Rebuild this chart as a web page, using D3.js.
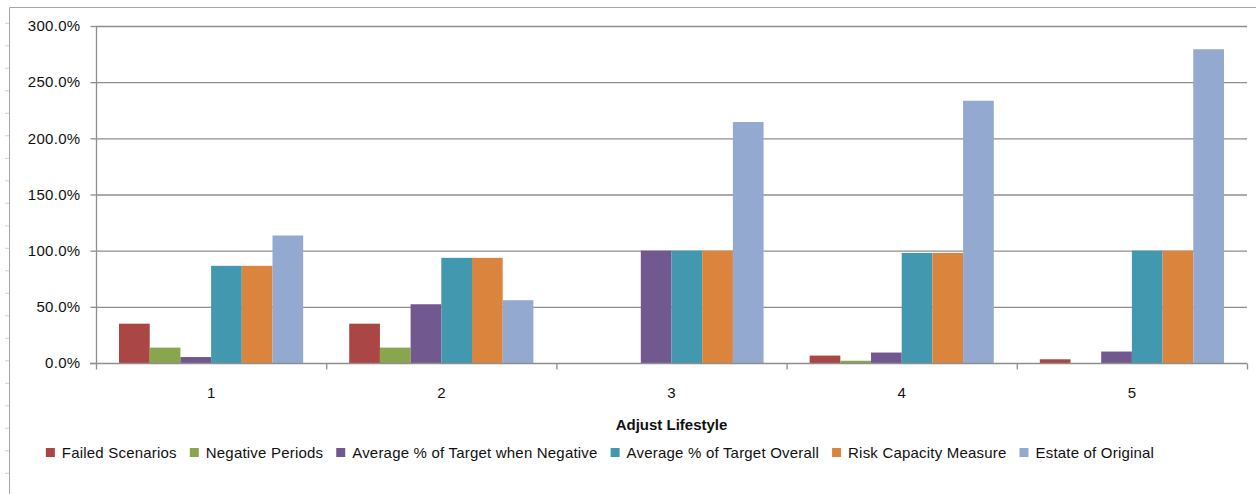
<!DOCTYPE html>
<html>
<head>
<meta charset="utf-8">
<script src="https://cdn.jsdelivr.net/npm/d3@7"></script>
<style>
  body { margin: 0; background: #fff; }
  svg text { font-family: "Liberation Sans", Arial, sans-serif; fill: #111; }
</style>
</head>
<body>
<div id="chart"></div>
<script>
const width = 1256;
const height = 494;
const marginTop = 26;
const marginRight = 9;
const marginBottom = 131;
const marginLeft = 96;

// data (fractions, shown as %)
const categories = ["1", "2", "3", "4", "5"];
const seriesNames = [
    "Failed Scenarios",
    "Negative Periods",
    "Average % of Target when Negative",
    "Average % of Target Overall",
    "Risk Capacity Measure",
    "Estate of Original"
];
const failedScenarios = [0.35, 0.35, 0, 0.066, 0.033];
const negativePeriods = [0.137, 0.137, 0, 0.02, 0];
const avgTargetNegative = [0.053, 0.523, 1.0, 0.093, 0.102];
const avgTargetOverall = [0.865, 0.936, 1.0, 0.98, 1.0];
const riskCapacity = [0.865, 0.936, 1.0, 0.98, 1.0];
const estateOfOriginal = [1.135, 0.559, 2.145, 2.335, 2.793];
const yTicks = [0, 0.5, 1, 1.5, 2, 2.5, 3];
const colors = ["#AA4643", "#89A54E", "#71588F", "#4198AF", "#DB843D", "#93A9CF"];

const seriesValues = [failedScenarios, negativePeriods, avgTargetNegative,
    avgTargetOverall, riskCapacity, estateOfOriginal];

const svg = d3.select("#chart")
    .append("svg")
    .attr("width", width)
    .attr("height", height);

// chart frame and worksheet row ticks peeking out on the left
svg.append("path")
    .attr("d", `M9.5,${height}V7.5H${width}`)
    .attr("fill", "none")
    .attr("stroke", "#a6a6a6");

svg.selectAll(".rowtick")
    .data(d3.range(23.3, height, 22.5))
    .join("line")
    .attr("x1", 5).attr("x2", 9)
    .attr("y1", d => d).attr("y2", d => d)
    .attr("stroke", "#d0d0d0");

const x0 = d3.scaleBand()
    .domain(categories)
    .range([marginLeft, width - marginRight])
    .padding(0);

const x1 = d3.scaleBand()
    .domain(d3.range(seriesNames.length))
    .range([x0.bandwidth() * 0.1, x0.bandwidth() * 0.9])
    .padding(0);

const yScale = d3.scaleLinear()
    .domain([0, 3])
    .range([height - marginBottom, marginTop]);

// gridlines
svg.append("g")
    .selectAll("line")
    .data(yTicks.slice(1))
    .join("line")
    .attr("x1", marginLeft)
    .attr("x2", width - marginRight)
    .attr("y1", d => yScale(d) + 0.5)
    .attr("y2", d => yScale(d) + 0.5)
    .attr("stroke", "#8e8e8e")
    .attr("stroke-width", 1.3);

// bars
const groups = svg.append("g")
    .selectAll("g")
    .data(categories)
    .join("g")
    .attr("transform", d => `translate(${x0(d)},0)`);

groups.selectAll("rect")
    .data((c, ci) => seriesValues.map((vals, si) => ({ si, v: vals[ci] })))
    .join("rect")
    .attr("x", d => x1(d.si))
    .attr("y", d => yScale(d.v))
    .attr("width", x1.bandwidth())
    .attr("height", d => yScale(0) - yScale(d.v))
    .attr("fill", d => colors[d.si]);

// y axis
const yAxis = svg.append("g")
    .attr("transform", `translate(${marginLeft + 0.5},0)`)
    .call(d3.axisLeft(yScale)
        .tickValues(yTicks)
        .tickFormat(d3.format(".1%"))
        .tickSize(6)
        .tickPadding(10));
yAxis.select(".domain").attr("stroke", "#8e8e8e").attr("stroke-width", 1.3)
    .attr("d", `M0,${marginTop}V${yScale(0)}`);
yAxis.selectAll(".tick line").attr("stroke", "#8e8e8e").attr("stroke-width", 1.3);
yAxis.selectAll(".tick text")
    .style("font-size", "15px")
    .style("letter-spacing", "0.3px")
    .attr("fill", "#111");

// x axis
const xAxis = svg.append("g")
    .attr("transform", `translate(0,${yScale(0) + 0.5})`);
xAxis.append("line")
    .attr("x1", marginLeft - 6)
    .attr("x2", width - marginRight)
    .attr("stroke", "#8e8e8e")
    .attr("stroke-width", 1.3);
xAxis.selectAll(".xtick")
    .data(categories.map(c => x0(c)).concat([width - marginRight]))
    .join("line")
    .attr("x1", d => d + 0.5).attr("x2", d => d + 0.5)
    .attr("y1", 0).attr("y2", 6)
    .attr("stroke", "#8e8e8e")
    .attr("stroke-width", 1.3);
xAxis.selectAll("text")
    .data(categories)
    .join("text")
    .attr("x", d => x0(d) + x0.bandwidth() / 2)
    .attr("y", 34)
    .attr("text-anchor", "middle")
    .style("font-size", "15px")
    .text(d => d);

// axis title
svg.append("text")
    .attr("x", (marginLeft + width - marginRight) / 2)
    .attr("y", 430)
    .attr("text-anchor", "middle")
    .style("font-size", "15px")
    .style("font-weight", "bold")
    .text("Adjust Lifestyle");

// legend
const legend = svg.append("g");
const items = legend.selectAll("g")
    .data(seriesNames)
    .join("g");
items.append("rect")
    .attr("width", 9).attr("height", 9)
    .attr("y", -10)
    .attr("fill", (d, i) => colors[i]);
items.append("text")
    .attr("x", 16)
    .style("font-size", "15px")
    .style("letter-spacing", "0.2px")
    .text(d => d);

let cursor = 0;
items.each(function () {
    const w = d3.select(this).select("text").node().getComputedTextLength();
    d3.select(this).attr("transform", `translate(${cursor},0)`);
    cursor += 16 + w + 13;
});
const legendWidth = cursor - 13;
legend.attr("transform", `translate(${600 - legendWidth / 2},458)`);
</script>
</body>
</html>
